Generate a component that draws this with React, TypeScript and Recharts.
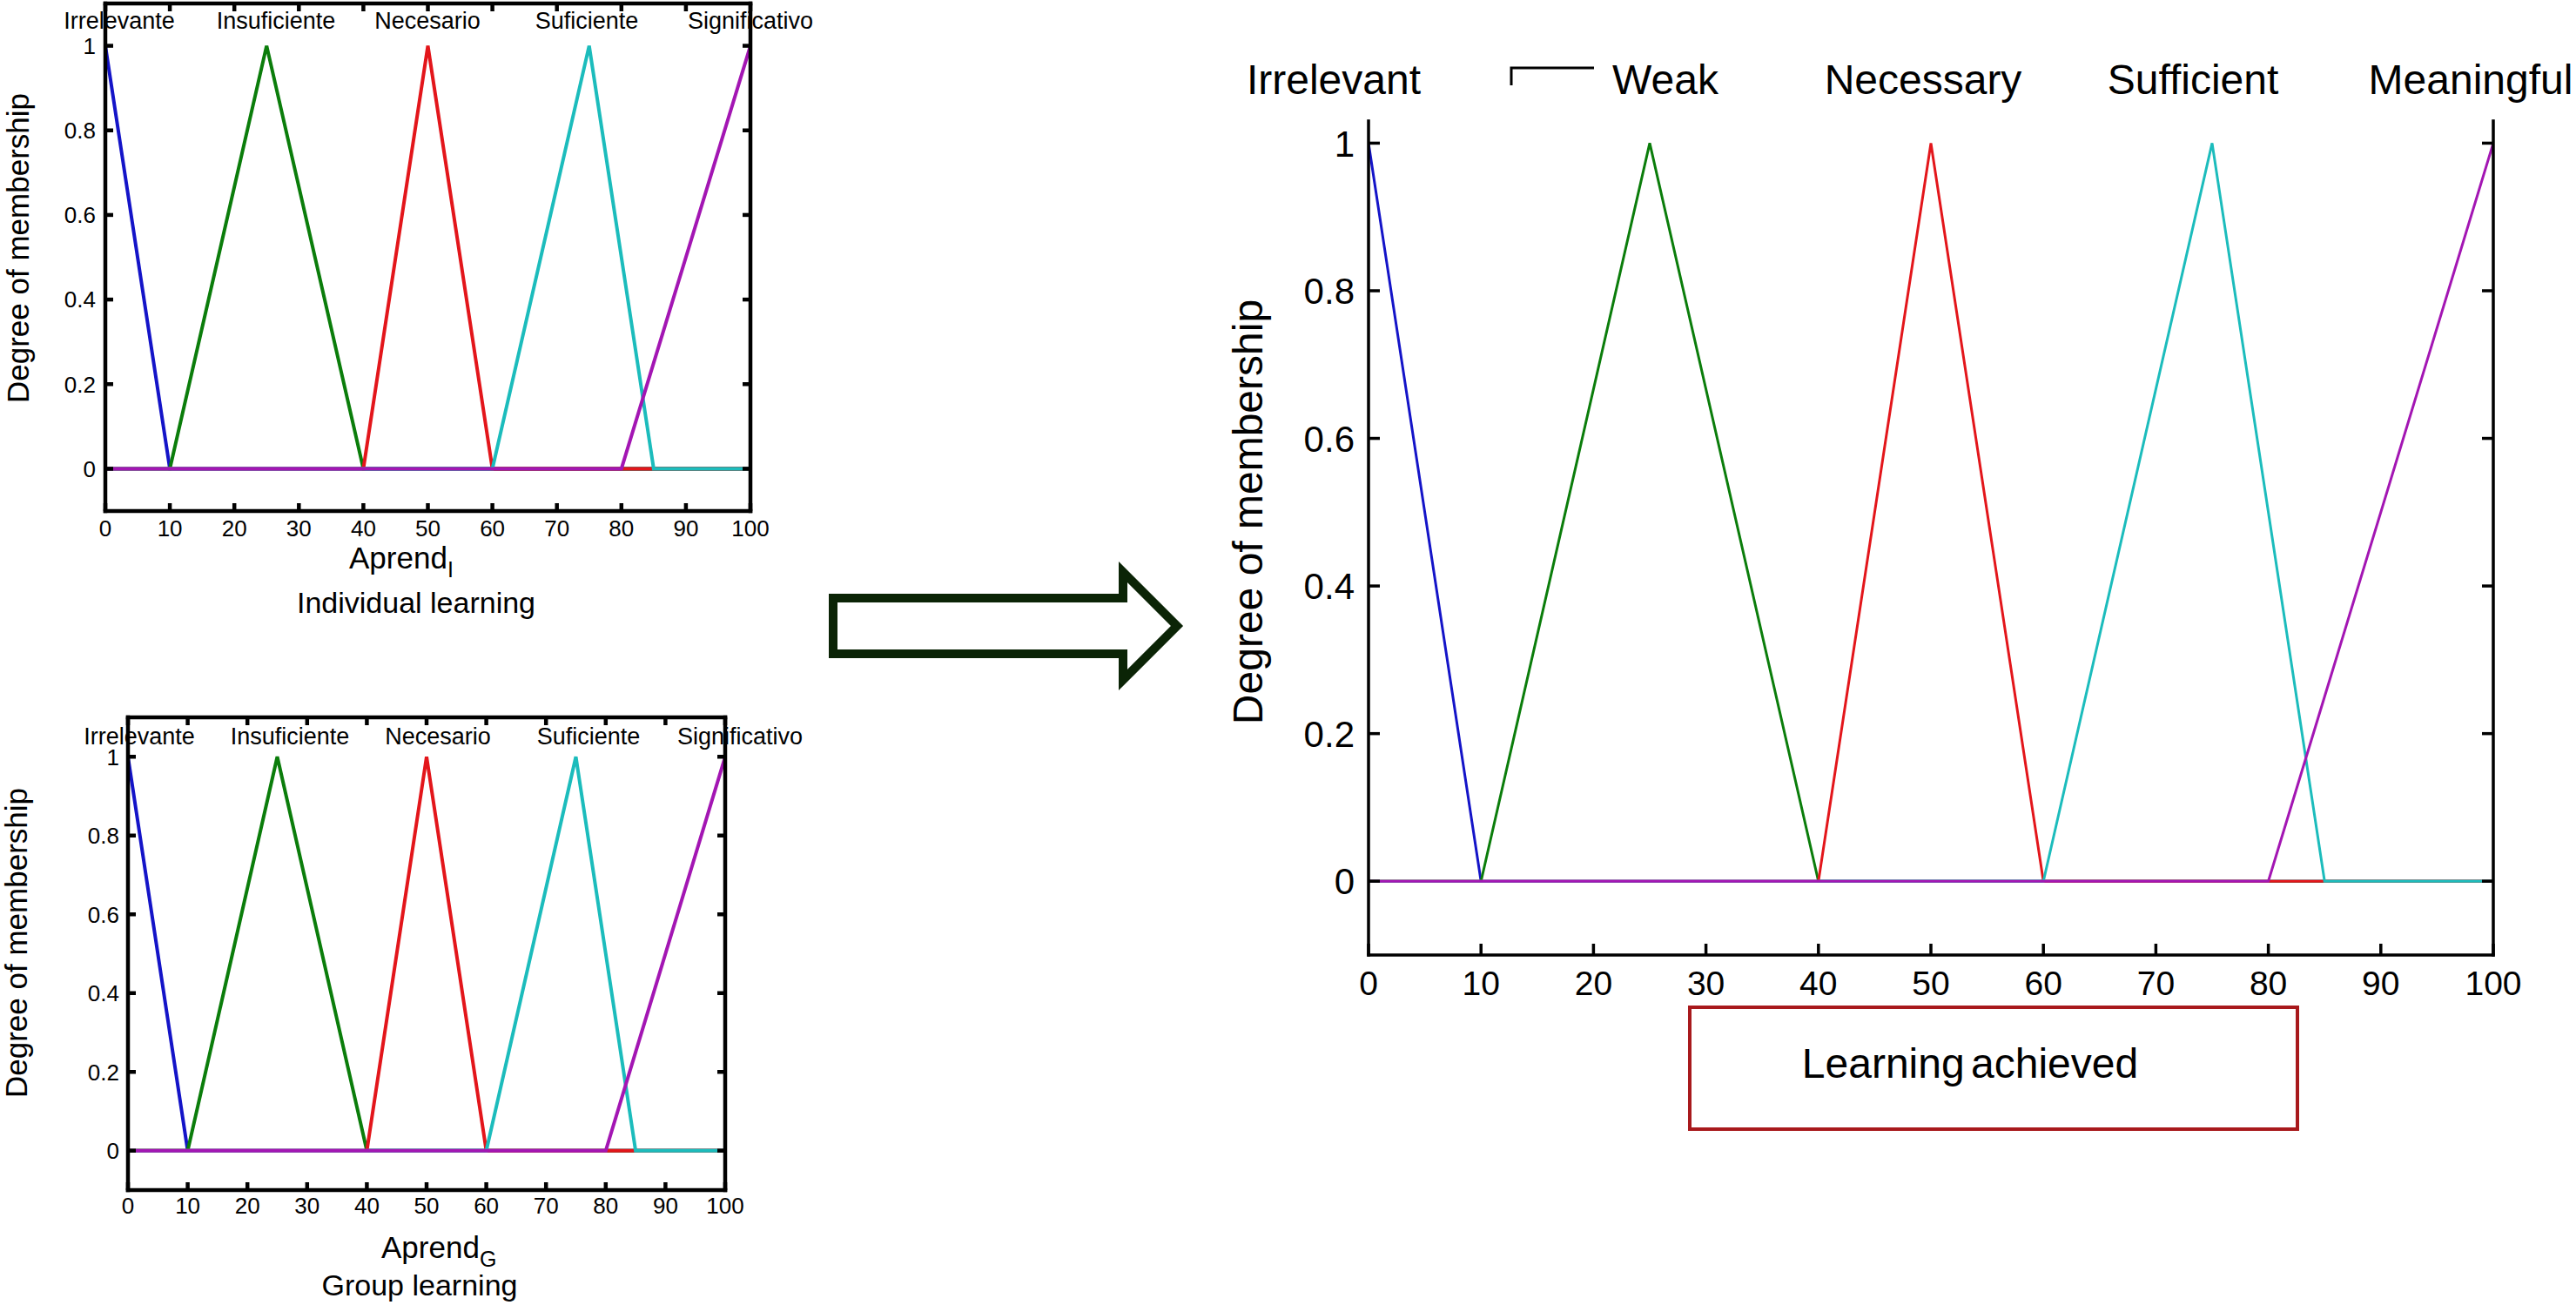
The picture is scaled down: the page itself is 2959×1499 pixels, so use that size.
import React from "react";
import { LineChart, Line, XAxis, YAxis } from "recharts";

// break points of the five membership functions (x = learning score)
const memberX = [0, 10, 25, 40, 50, 60, 75, 80, 85, 100];
const irrelevant = [1, 0, 0, 0, 0, 0, 0, 0, 0, 0];
const insufficient = [0, 0, 1, 0, 0, 0, 0, 0, 0, 0];
const necessary = [0, 0, 0, 0, 1, 0, 0, 0, 0, 0];
const sufficient = [0, 0, 0, 0, 0, 0, 1, 0.5, 0, 0];
const meaningful = [0, 0, 0, 0, 0, 0, 0, 0, 0.25, 1];

const xTicks = [0, 10, 20, 30, 40, 50, 60, 70, 80, 90, 100];
const yTicks = [0, 0.2, 0.4, 0.6, 0.8, 1];

const spanishNames = ["Irrelevante", "Insuficiente", "Necesario", "Suficiente", "Significativo"];
const englishNames = ["Irrelevant", "Weak", "Necessary", "Sufficient", "Meaningful"];

const rows = memberX.map((x, i) => ({
  x,
  irr: irrelevant[i],
  ins: insufficient[i],
  nec: necessary[i],
  suf: sufficient[i],
  mea: meaningful[i],
}));

const series = [
  { key: "irr", color: "#1414c8" },
  { key: "ins", color: "#0b7d0b" },
  { key: "nec", color: "#e3161b" },
  { key: "suf", color: "#1cbcbc" },
  { key: "mea", color: "#a316b3" },
];

const FONT = "'Liberation Sans', Arial, Helvetica, sans-serif";

type PanelProps = {
  box: { left: number; top: number; width: number; height: number };
  plot: { l: number; r: number; t: number; b: number };
  yDomain: [number, number];
  lineWidth: number;
  axisWidth: number;
  tickLen: number;
  xFont: number;
  yFont: number;
  yGap: number;
  xBase: number;
  topAxis: boolean;
};

const YW = 40;
const XH = 30;
const RW = 10;
const TH = 10;

function Panel(p: PanelProps) {
  const { box, plot } = p;
  const margin = {
    left: plot.l - box.left - YW,
    right: box.left + box.width - plot.r - RW,
    top: plot.t - box.top - (p.topAxis ? TH : 0),
    bottom: box.top + box.height - plot.b - XH,
  };
  const axisLine = { stroke: "#000", strokeWidth: p.axisWidth, strokeLinecap: "square" as const };

  const leftTick = (t: any) => (
    <g>
      <line x1={t.x} x2={t.x + p.tickLen} y1={t.y} y2={t.y} stroke="#000" strokeWidth={p.axisWidth} />
      <text x={t.x - p.yGap} y={t.y} dy="0.36em" textAnchor="end" fontSize={p.yFont} fontFamily={FONT} fill="#000">
        {String(t.payload.value)}
      </text>
    </g>
  );
  const rightTick = (t: any) => (
    <line x1={t.x - p.tickLen} x2={t.x} y1={t.y} y2={t.y} stroke="#000" strokeWidth={p.axisWidth} />
  );
  const bottomTick = (t: any) => (
    <g>
      <line x1={t.x} x2={t.x} y1={t.y} y2={t.y - p.tickLen} stroke="#000" strokeWidth={p.axisWidth} />
      <text x={t.x} y={t.y + p.xBase} textAnchor="middle" fontSize={p.xFont} fontFamily={FONT} fill="#000">
        {String(t.payload.value)}
      </text>
    </g>
  );
  const topTick = (t: any) => (
    <line x1={t.x} x2={t.x} y1={t.y} y2={t.y + p.tickLen} stroke="#000" strokeWidth={p.axisWidth} />
  );

  return (
    <div style={{ position: "absolute", left: box.left, top: box.top }}>
      <LineChart width={box.width} height={box.height} data={rows} margin={margin}>
        <XAxis
          xAxisId="b"
          type="number"
          dataKey="x"
          domain={[0, 100]}
          ticks={xTicks}
          allowDataOverflow
          height={XH}
          tickSize={0}
          tickMargin={0}
          tickLine={false}
          axisLine={axisLine}
          tick={bottomTick}
          interval={0}
        />
        <XAxis
          xAxisId="t"
          orientation="top"
          type="number"
          dataKey="x"
          domain={[0, 100]}
          ticks={xTicks}
          allowDataOverflow
          height={p.topAxis ? TH : 0}
          hide={!p.topAxis}
          tickSize={0}
          tickMargin={0}
          tickLine={false}
          axisLine={axisLine}
          tick={topTick}
          interval={0}
        />
        <YAxis
          yAxisId="l"
          type="number"
          domain={p.yDomain}
          ticks={yTicks}
          allowDataOverflow
          width={YW}
          tickSize={0}
          tickMargin={0}
          tickLine={false}
          axisLine={axisLine}
          tick={leftTick}
          interval={0}
        />
        <YAxis
          yAxisId="r"
          orientation="right"
          type="number"
          domain={p.yDomain}
          ticks={yTicks}
          allowDataOverflow
          width={RW}
          tickSize={0}
          tickMargin={0}
          tickLine={false}
          axisLine={axisLine}
          tick={rightTick}
          interval={0}
        />
        <Line xAxisId="t" yAxisId="r" dataKey="irr" stroke="none" dot={false} isAnimationActive={false} />
        {series.map((s) => (
          <Line
            key={s.key}
            xAxisId="b"
            yAxisId="l"
            type="linear"
            dataKey={s.key}
            stroke={s.color}
            strokeWidth={p.lineWidth}
            dot={false}
            activeDot={false}
            isAnimationActive={false}
          />
        ))}
      </LineChart>
    </div>
  );
}

const txt = (size: number) => ({ fontFamily: FONT, fontSize: size, fill: "#000" });

export default function App() {
  const tlX = [137, 317, 491, 674, 862];
  const blX = [160, 333, 503, 676, 850];
  const mX = [1532, 1913, 2209, 2519, 2838];
  return (
    <div style={{ position: "absolute", left: 0, top: 0, width: 2959, height: 1499, background: "#fff", overflow: "hidden" }}>
      <Panel
        box={{ left: 0, top: -20, width: 900, height: 700 }}
        plot={{ l: 121, r: 862, t: 4, b: 587 }}
        yDomain={[-0.1, 1.1]}
        lineWidth={4}
        axisWidth={4.5}
        tickLen={9}
        xFont={26}
        yFont={26}
        yGap={11}
        xBase={29}
        topAxis
      />
      <Panel
        box={{ left: 0, top: 780, width: 900, height: 680 }}
        plot={{ l: 147, r: 833, t: 824, b: 1367 }}
        yDomain={[-0.1, 1.1]}
        lineWidth={4}
        axisWidth={4.5}
        tickLen={9}
        xFont={26}
        yFont={26}
        yGap={10}
        xBase={27}
        topAxis
      />
      <Panel
        box={{ left: 1480, top: 100, width: 1440, height: 1100 }}
        plot={{ l: 1572, r: 2864, t: 139, b: 1097 }}
        yDomain={[-0.1, 1.03]}
        lineWidth={3}
        axisWidth={3.5}
        tickLen={13}
        xFont={39}
        yFont={42}
        yGap={16}
        xBase={46}
        topAxis={false}
      />
      <svg width={2959} height={1499} style={{ position: "absolute", left: 0, top: 0, pointerEvents: "none" }}>
        {spanishNames.map((n, i) => (
          <text key={"t" + n} x={tlX[i]} y={33} textAnchor="middle" {...txt(27)}>{n}</text>
        ))}
        {spanishNames.map((n, i) => (
          <text key={"b" + n} x={blX[i]} y={855} textAnchor="middle" {...txt(27)}>{n}</text>
        ))}
        {englishNames.map((n, i) => (
          <text key={"m" + n} x={mX[i]} y={108} textAnchor="middle" {...txt(48)}>{n}</text>
        ))}
        <text x={33} y={285} textAnchor="middle" transform="rotate(-90 33 285)" {...txt(35)}>Degree of membership</text>
        <text x={31} y={1083} textAnchor="middle" transform="rotate(-90 31 1083)" {...txt(35)}>Degree of membership</text>
        <text x={1450} y={588} textAnchor="middle" transform="rotate(-90 1450 588)" {...txt(48)}>Degree of membership</text>

        <text x={401} y={653} {...txt(35)}>
          Aprend<tspan fontSize={25} dy={10}>I</tspan>
        </text>
        <text x={478} y={704} textAnchor="middle" {...txt(34)}>Individual learning</text>
        <text x={438} y={1445} {...txt(35)}>
          Aprend<tspan fontSize={25} dy={10}>G</tspan>
        </text>
        <text x={482} y={1488} textAnchor="middle" {...txt(34)}>Group learning</text>

        <path d="M1736 98 L1736 78 L1831 78" fill="none" stroke="#000" strokeWidth={3} />

        <rect x={1941} y={1157} width={698} height={140} fill="none" stroke="#a8191c" strokeWidth={4} />
        <text x={2263} y={1238} textAnchor="middle" wordSpacing={-6} {...txt(48)}>Learning achieved</text>

        <polygon
          points="957,687 1290,687 1290,657 1352,719 1290,781 1290,751 957,751"
          fill="none"
          stroke="#0b2406"
          strokeWidth={10}
          strokeLinejoin="miter"
        />
      </svg>
    </div>
  );
}
